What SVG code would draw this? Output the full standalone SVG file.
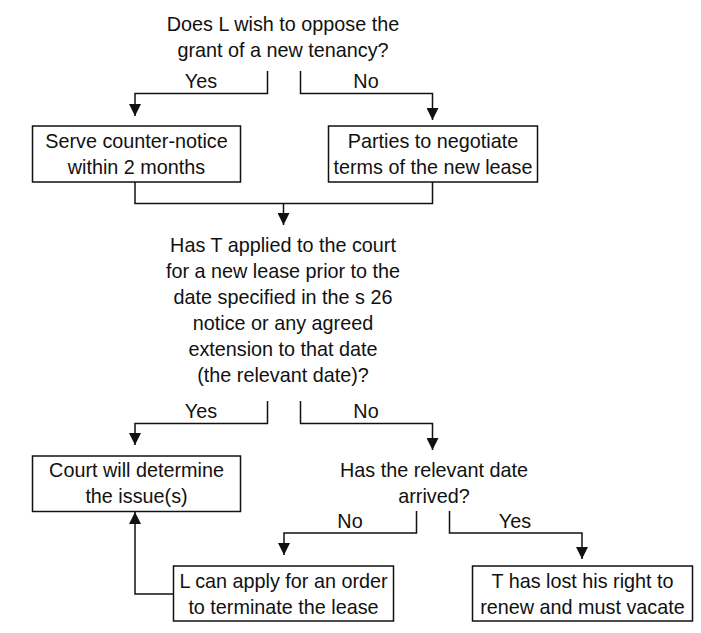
<svg xmlns="http://www.w3.org/2000/svg" width="701" height="633" viewBox="0 0 701 633">
<style>
text{font-family:"Liberation Sans",Arial,sans-serif;font-size:19.8px;fill:#111;text-anchor:middle}
.box{fill:#fff;stroke:#111;stroke-width:1.5}
.conn{fill:none;stroke:#111;stroke-width:1.5}
</style>
<defs>
<marker id="arrv" markerUnits="userSpaceOnUse" markerWidth="12" markerHeight="12" refX="12" refY="6" orient="auto" viewBox="0 0 12 12">
<path d="M0,0 L12,6 L0,12 z" fill="#111"/>
</marker>
</defs>
<rect width="701" height="633" fill="#fff"/>
<g id="connectors">
<path class="conn" d="M267.5,71 V93.5 H135 V116" marker-end="url(#arrv)"/>
<path class="conn" d="M300.5,71 V93.5 H432.5 V120" marker-end="url(#arrv)"/>
<path class="conn" d="M135,182 V203.5 H432.5 V182"/>
<path class="conn" d="M283.5,203.5 V225" marker-end="url(#arrv)"/>
<path class="conn" d="M267.5,401 V423.5 H135 V445" marker-end="url(#arrv)"/>
<path class="conn" d="M300.5,401 V423.5 H432.5 V450" marker-end="url(#arrv)"/>
<path class="conn" d="M416.5,511 V533 H284 V555" marker-end="url(#arrv)"/>
<path class="conn" d="M449.5,511 V533 H582 V559" marker-end="url(#arrv)"/>
<path class="conn" d="M173,594 H135 V512" marker-end="url(#arrv)"/>
<text x="201" y="88">Yes</text>
<text x="366" y="88">No</text>
<text x="201" y="418">Yes</text>
<text x="366" y="418">No</text>
<text x="350" y="528">No</text>
<text x="515" y="528">Yes</text>
</g>
<g id="q1">
<text x="283" y="31">Does L wish to oppose the</text>
<text x="283" y="57">grant of a new tenancy?</text>
</g>
<g id="counter-notice">
<rect class="box" x="32.5" y="126" width="208" height="56"/>
<text x="136.5" y="148">Serve counter-notice</text>
<text x="136.5" y="173.5">within 2 months</text>
</g>
<g id="negotiate">
<rect class="box" x="328.5" y="126" width="209" height="56"/>
<text x="433" y="148">Parties to negotiate</text>
<text x="433" y="173.5">terms of the new lease</text>
</g>
<g id="q2">
<text x="283" y="252">Has T applied to the court</text>
<text x="283" y="278">for a new lease prior to the</text>
<text x="283" y="304">date specified in the s 26</text>
<text x="283" y="330">notice or any agreed</text>
<text x="283" y="356">extension to that date</text>
<text x="283" y="382">(the relevant date)?</text>
</g>
<g id="court">
<rect class="box" x="32.5" y="456" width="208" height="55.5"/>
<text x="136.5" y="477">Court will determine</text>
<text x="136.5" y="503">the issue(s)</text>
</g>
<g id="q3">
<text x="434" y="477">Has the relevant date</text>
<text x="434" y="503">arrived?</text>
</g>
<g id="apply">
<rect class="box" x="173.5" y="566" width="220" height="55"/>
<text x="283.5" y="588">L can apply for an order</text>
<text x="283.5" y="613.5">to terminate the lease</text>
</g>
<g id="vacate">
<rect class="box" x="472.5" y="566" width="220" height="55"/>
<text x="582.5" y="588">T has lost his right to</text>
<text x="582.5" y="613.5">renew and must vacate</text>
</g>
</svg>
